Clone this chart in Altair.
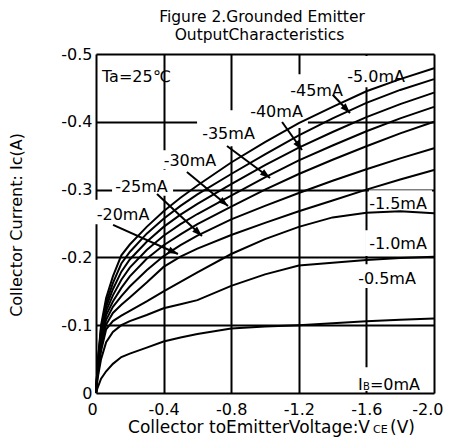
import math
import altair as alt
import pandas as pd

# ---------------- data ----------------
VCE = [0, -0.01, -0.03, -0.06, -0.1, -0.15, -0.2, -0.3, -0.4, -0.5, -0.6,
       -0.8, -1.0, -1.2, -1.4, -1.6, -1.8, -2.0]

IC_50 = [0, -0.045, -0.100, -0.140, -0.172, -0.203, -0.219, -0.245, -0.268, -0.288, -0.306, -0.340, -0.370, -0.398, -0.422, -0.445, -0.463, -0.479]
IC_45 = [0, -0.043, -0.096, -0.133, -0.162, -0.191, -0.208, -0.235, -0.257, -0.276, -0.293, -0.323, -0.352, -0.380, -0.405, -0.428, -0.447, -0.463]
IC_40 = [0, -0.041, -0.091, -0.127, -0.153, -0.179, -0.197, -0.223, -0.245, -0.263, -0.279, -0.308, -0.336, -0.362, -0.385, -0.407, -0.426, -0.443]
IC_35 = [0, -0.039, -0.087, -0.121, -0.144, -0.167, -0.185, -0.211, -0.232, -0.249, -0.264, -0.291, -0.318, -0.343, -0.365, -0.386, -0.405, -0.422]
IC_30 = [0, -0.037, -0.082, -0.115, -0.135, -0.155, -0.172, -0.198, -0.218, -0.234, -0.249, -0.275, -0.300, -0.323, -0.344, -0.364, -0.383, -0.400]
IC_25 = [0, -0.035, -0.077, -0.108, -0.127, -0.143, -0.157, -0.181, -0.202, -0.218, -0.232, -0.256, -0.276, -0.295, -0.313, -0.330, -0.346, -0.361]
IC_20 = [0, -0.032, -0.070, -0.101, -0.118, -0.130, -0.141, -0.163, -0.186, -0.201, -0.213, -0.233, -0.251, -0.268, -0.284, -0.300, -0.315, -0.329]
IC_15 = [0, -0.028, -0.062, -0.094, -0.106, -0.114, -0.121, -0.135, -0.150, -0.164, -0.178, -0.205, -0.227, -0.245, -0.259, -0.266, -0.268, -0.265]
IC_10 = [0, -0.022, -0.050, -0.075, -0.090, -0.100, -0.106, -0.115, -0.125, -0.131, -0.137, -0.158, -0.175, -0.188, -0.192, -0.196, -0.199, -0.201]
IC_05 = [0, -0.008, -0.021, -0.032, -0.043, -0.053, -0.058, -0.067, -0.076, -0.082, -0.087, -0.095, -0.098, -0.100, -0.103, -0.106, -0.108, -0.110]

SERIES_NAMES = ["-5.0", "-4.5", "-4.0", "-3.5", "-3.0", "-2.5", "-2.0", "-1.5", "-1.0", "-0.5"]
SERIES_VALUES = [IC_50, IC_45, IC_40, IC_35, IC_30, IC_25, IC_20, IC_15, IC_10, IC_05]

X_TICKS = [0, -0.4, -0.8, -1.2, -1.6, -2.0]
Y_TICKS = [0, -0.1, -0.2, -0.3, -0.4, -0.5]

# curve labels (text, x, y)
LABEL_TEXT = ["-20mA", "-25mA", "-30mA", "-35mA", "-40mA", "-45mA", "-5.0mA", "-1.5mA", "-1.0mA", "-0.5mA"]
LABEL_X = [-0.160, -0.269, -0.556, -0.784, -1.068, -1.305, -1.657, -1.787, -1.787, -1.722]
LABEL_Y = [-0.255, -0.2965, -0.335, -0.375, -0.407, -0.438, -0.459, -0.271, -0.212, -0.161]

# white label backgrounds (x1, x2, y1, y2)
BOX_X1 = [0.018, -0.095, -0.390, -0.598, -0.893, -1.130, -1.473, -1.615, -1.592, -1.533, -1.533]
BOX_X2 = [-0.325, -0.456, -0.722, -0.970, -1.254, -1.479, -1.846, -1.988, -1.988, -1.947, -1.988]
BOX_Y1 = [-0.285, -0.329, -0.358, -0.417, -0.432, -0.470, -0.497, -0.299, -0.240, -0.190, -0.038]
BOX_Y2 = [-0.249, -0.291, -0.330, -0.364, -0.391, -0.431, -0.451, -0.267, -0.202, -0.155, -0.003]

# arrows (start -> tip)
ARR_X1 = [-0.101, -0.361, -0.538, -0.775, -1.101, -1.402]
ARR_Y1 = [-0.248, -0.2935, -0.326, -0.3643, -0.3997, -0.4395]
ARR_X2 = [-0.485, -0.627, -0.781, -1.030, -1.219, -1.503]
ARR_Y2 = [-0.205, -0.2316, -0.2758, -0.3171, -0.3584, -0.413]

# ---------------- tables ----------------
W, H = 338, 339
curves = pd.DataFrame([
    {"ib": name, "vce": v, "ic": i}
    for name, arr in zip(SERIES_NAMES, SERIES_VALUES)
    for v, i in zip(VCE, arr)
])
labels = pd.DataFrame({"text": LABEL_TEXT, "vce": LABEL_X, "ic": LABEL_Y})
boxes = pd.DataFrame({"x1": BOX_X1, "x2": BOX_X2, "y1": BOX_Y1, "y2": BOX_Y2})
px_per_x = W / 2.0
px_per_y = H / 0.5
angles = []
for a, b, c, d in zip(ARR_X1, ARR_Y1, ARR_X2, ARR_Y2):
    dx = -(c - a) * px_per_x
    dy = (d - b) * px_per_y
    angles.append(math.degrees(math.atan2(dx, -dy)) % 360)
arrows = pd.DataFrame({"x1": ARR_X1, "y1": ARR_Y1, "x2": ARR_X2, "y2": ARR_Y2, "ang": angles})
one = pd.DataFrame({"a": [0]})
ib0 = pd.DataFrame({"vce": [-1.550], "ic": [-0.0044]})
ta = pd.DataFrame({"vce": [-0.0355], "ic": [-0.4587]})

FONT = "DejaVu Sans"
xscale = alt.Scale(domain=[-2.0, 0], reverse=True, nice=False, zero=False)
yscale = alt.Scale(domain=[-0.5, 0], reverse=True, nice=False, zero=False)
xaxis = alt.Axis(values=X_TICKS, title=None, grid=True, gridColor="black", gridWidth=2,
                 gridOpacity=1, domain=False, ticks=False, labelFont=FONT, labelFontSize=16,
                 labelColor="black", labelPadding=8, labelAngle=0,
                 labelFlush=True, labelFlushOffset=9,
                 labelExpr="datum.value == 0 ? '0' : '-' + format(-datum.value, '.1f')")
yaxis = alt.Axis(values=Y_TICKS, title=None, grid=True, gridColor="black", gridWidth=2,
                 gridOpacity=1, domain=False, ticks=False, labelFont=FONT, labelFontSize=16,
                 labelColor="black", labelPadding=4, labelFlush=False,
                 labelExpr="datum.value == 0 ? '0' : '-' + format(-datum.value, '.1f')")


def X(f):
    return alt.X(f"{f}:Q", scale=xscale, axis=xaxis)


def Y(f):
    return alt.Y(f"{f}:Q", scale=yscale, axis=yaxis)


box_layer = alt.Chart(boxes).mark_rect(color="white", opacity=1).encode(
    x=X("x1"), x2="x2", y=Y("y1"), y2="y2")

curve_layer = alt.Chart(curves).mark_line(color="black", strokeWidth=2).encode(
    x=X("vce"), y=Y("ic"), detail="ib:N")

label_layer = alt.Chart(labels).mark_text(
    font=FONT, fontSize=16, color="black", align="center", baseline="alphabetic"
).encode(x=X("vce"), y=Y("ic"), text="text:N")

rule_layer = alt.Chart(arrows).mark_rule(color="black", strokeWidth=2).encode(
    x=X("x1"), y=Y("y1"), x2="x2", y2="y2")

head_layer = alt.Chart(arrows).mark_point(
    shape="M0,0L-0.35,1L0.35,1Z", filled=True, size=400, color="black", opacity=1, strokeWidth=0
).encode(x=X("x2"), y=Y("y2"), angle=alt.Angle("ang:Q", scale=None))

ta_layer = alt.Chart(ta).mark_text(
    font=FONT, fontSize=16, color="black", align="left", baseline="alphabetic", text="Ta=25\u2103"
).encode(x=X("vce"), y=Y("ic"))

ib_i = alt.Chart(ib0).mark_text(font=FONT, fontSize=16, color="black", align="left",
                                baseline="alphabetic", text="I").encode(x=X("vce"), y=Y("ic"))
ib_b = alt.Chart(ib0).mark_text(font=FONT, fontSize=10, color="black", align="left",
                                baseline="alphabetic", text="B", dx=5).encode(x=X("vce"), y=Y("ic"))
ib_rest = alt.Chart(ib0).mark_text(font=FONT, fontSize=16, color="black", align="left",
                                   baseline="alphabetic", text="=0mA", dx=12).encode(x=X("vce"), y=Y("ic"))


def note(txt, x, y, size=16, align="center", angle=0, baseline="alphabetic"):
    kw = dict(font=FONT, fontSize=size, color="black", align=align, baseline=baseline, text=txt)
    if angle:
        kw["angle"] = angle
    return alt.Chart(one).mark_text(**kw).encode(x=alt.value(x), y=alt.value(y))


title1 = note("Figure 2.Grounded Emitter", 166, -32, size=15.5)
title2 = note("OutputCharacteristics", 163.5, -14.5, size=15.5)
xt_main = note("Collector toEmitterVoltage:V", 274, 379, size=17, align="right")
xt_sub = note("CE", 277, 379, size=11, align="left")
xt_end = note("(V)", 294, 379, size=17, align="left")
yt = note("Collector Current: Ic(A)", -79, 171, size=16, angle=270, baseline="middle")

chart = alt.layer(
    box_layer, curve_layer, label_layer, rule_layer, head_layer,
    ta_layer, ib_i, ib_b, ib_rest,
    title1, title2, xt_main, xt_sub, xt_end, yt,
).properties(
    width=W, height=H,
    autosize=alt.AutoSizeParams(type="none"),
    padding={"left": 88, "top": 46, "right": 9, "bottom": 45},
).configure_view(
    stroke="black", strokeWidth=3, fill="white"
).configure(background="white")

chart.save("out.html", embed_options={"renderer": "svg", "actions": False})
